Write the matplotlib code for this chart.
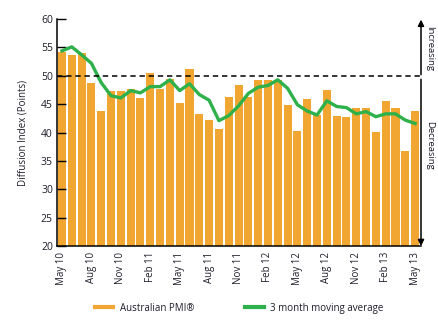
import numpy as np
import matplotlib.pyplot as plt
from matplotlib.lines import Line2D

plt.rcParams['font.family'] = ['Open Sans', 'DejaVu Sans']

# Monthly PMI readings, May 2010 to May 2013
meses = ['May 10', 'Jun 10', 'Jul 10', 'Aug 10', 'Sep 10', 'Oct 10', 'Nov 10', 'Dec 10',
         'Jan 11', 'Feb 11', 'Mar 11', 'Apr 11', 'May 11', 'Jun 11', 'Jul 11', 'Aug 11',
         'Sep 11', 'Oct 11', 'Nov 11', 'Dec 11', 'Jan 12', 'Feb 12', 'Mar 12', 'Apr 12',
         'May 12', 'Jun 12', 'Jul 12', 'Aug 12', 'Sep 12', 'Oct 12', 'Nov 12', 'Dec 12',
         'Jan 13', 'Feb 13', 'Mar 13', 'Apr 13', 'May 13']
pmi = [54.2, 53.7, 54.1, 48.8, 43.8, 47.4, 47.4, 47.7, 46.1, 50.5, 47.7, 49.5, 45.2,
       51.2, 43.3, 42.2, 40.7, 46.3, 48.4, 46.3, 49.3, 49.3, 49.3, 44.9, 40.3, 45.9,
       43.1, 47.5, 42.9, 42.8, 44.4, 44.4, 40.1, 45.6, 44.4, 36.7, 43.8]
media_movil = [54.4, 55.1, 53.7, 52.2, 48.8, 46.5, 46.1, 47.4, 47.0, 48.1, 48.1, 49.3,
               47.4, 48.6, 46.7, 45.7, 42.1, 43.0, 44.7, 46.9, 48.0, 48.3, 49.3, 47.8,
               44.9, 43.8, 43.1, 45.6, 44.6, 44.4, 43.3, 43.7, 42.8, 43.3, 43.3, 42.2, 41.6]

naranja = '#f0a630'
verde = '#2eb04a'
texto = '#1e1e2a'

fig = plt.figure(figsize=(4.39, 3.23), dpi=100)
ax = fig.add_axes([0.130, 0.238, 0.829, 0.703])

x = np.arange(len(meses))
ax.bar(x, pmi, width=0.82, color=naranja, zorder=2)
ax.plot(x, media_movil, color=verde, lw=2.4, zorder=3, solid_joinstyle='round')
ax.axhline(50, color='black', lw=1.1, ls=(0, (3.5, 2.5)), zorder=4)

ax.set_xlim(-0.5, 36.6)
ax.set_ylim(20, 60)
ax.set_yticks(range(20, 61, 5))
ax.set_xticks(x[::3])
ax.set_xticklabels(meses[::3], rotation=90, fontsize=7, color=texto)
ax.tick_params(axis='y', direction='in', length=6.5, width=1, labelsize=7.5,
               labelcolor=texto, pad=3)
ax.tick_params(axis='x', length=0, pad=4)
ax.set_axisbelow(False)
ax.set_ylabel('Diffusion Index (Points)', fontsize=7, color=texto, labelpad=9)

for s in ['top', 'right']:
    ax.spines[s].set_visible(False)
for s in ['left', 'bottom']:
    ax.spines[s].set_linewidth(1.1)
    ax.spines[s].set_zorder(5)

# Increasing / decreasing arrows on the right-hand side
xr = 36.6
flecha = dict(arrowstyle='-|>', color='black', lw=1.1, mutation_scale=9,
              shrinkA=0, shrinkB=0)
ax.annotate('', xy=(xr, 59.9), xytext=(xr, 50.2), arrowprops=flecha,
            annotation_clip=False)
ax.annotate('', xy=(xr, 20.0), xytext=(xr, 49.4), arrowprops=flecha,
            annotation_clip=False)
ax.text(xr + 0.45, 54.8, 'Increasing', rotation=270, fontsize=6.8, color=texto,
        ha='left', va='center', clip_on=False)
ax.text(xr + 0.45, 37.8, 'Decreasing', rotation=270, fontsize=6.8, color=texto,
        ha='left', va='center', clip_on=False)

handles = [Line2D([], [], color=naranja, lw=3),
           Line2D([], [], color=verde, lw=3)]
fig.legend(handles, ['Australian PMI®', '3 month moving average'],
           loc='center', bbox_to_anchor=(0.545, 0.046), ncol=2, frameon=False,
           fontsize=7, handlelength=1.9, columnspacing=5.2, handletextpad=0.7,
           labelcolor=texto)

fig.savefig('out.png', dpi=100)
